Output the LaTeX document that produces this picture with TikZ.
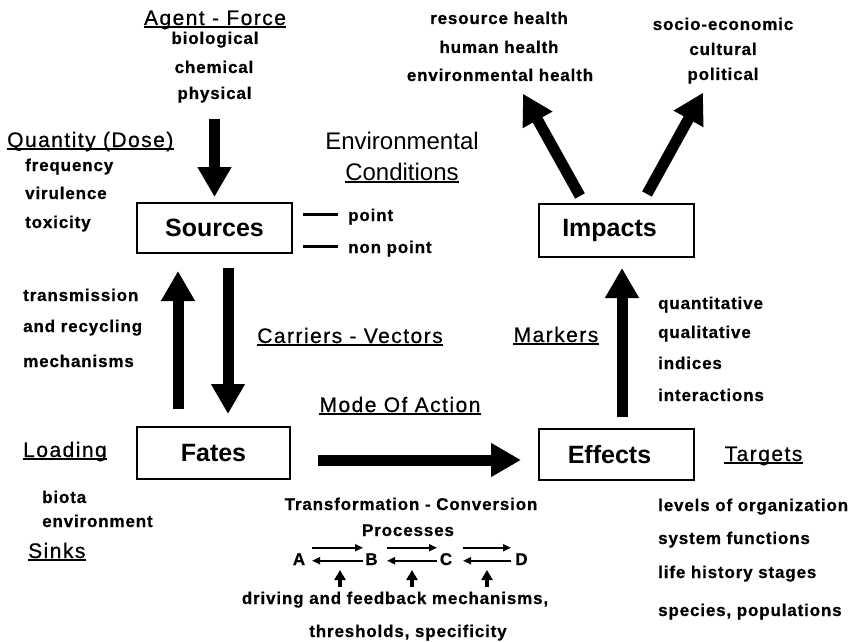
\documentclass[tikz,border=0pt]{standalone}
\usepackage{fontspec}
\setmainfont{Liberation Sans}
\newfontfamily\smf[LetterSpace=5,FakeBold=0.6]{Liberation Sans Bold}
\newfontfamily\hdf[LetterSpace=7,FakeBold=0.6]{Liberation Sans}
\newfontfamily\rgf{Liberation Sans}
\newfontfamily\bxf{Liberation Sans Bold}
\usetikzlibrary{arrows.meta,calc}
\tikzset{
  sm/.style={font=\smf\fontsize{17}{20}\selectfont, inner sep=0pt, text height=12pt, text depth=3.5pt},
  hd/.style={font=\hdf\fontsize{21}{25}\selectfont, inner sep=0pt, text height=15pt, text depth=0pt},
  rg/.style={font=\rgf\fontsize{24}{28}\selectfont, inner sep=0pt, text height=17pt, text depth=0pt},
  ulline/.style={draw, line width=1.8pt},
  ul/.style={append after command={([yshift=-2pt]\tikzlastnode.south west) edge[ulline] ([yshift=-2pt]\tikzlastnode.south east)}},
  box/.style={draw, line width=2pt, minimum width=155pt, minimum height=51pt, inner sep=0pt, font=\bxf\fontsize{25}{30}\selectfont},
  big/.style={line width=11pt, -{Triangle[width=32pt,length=30pt]}},
  eqarrow/.style={line width=2.4pt, -{Triangle[width=7pt,length=8pt]}},
  smallup/.style={line width=3.5pt, -{Triangle[width=11pt,length=10pt]}},
  pline/.style={line width=3pt}
}
\begin{document}
\begin{tikzpicture}[x=1pt,y=-1pt]
\fill[white] (0,0) rectangle (868,642);
\useasboundingbox (0,0) rectangle (868,642);

% boxes
\node[box, minimum height=50pt] (Sources) at (214.5,228) {Sources};
\node[box, minimum width=153pt, minimum height=52pt] (Fates) at (213.5,453) {Fates};
\node[box] (Effects) at (616.5,454.5) {Effects\hspace*{14pt}};
\node[box, minimum height=53pt] (Impacts) at (616.5,230.5) {Impacts\hspace*{14pt}};

% top left
\node[hd,ul,anchor=base] (agent) at (215,25) {Agent - Force};
\node[sm,anchor=base] (bio) at (215,44) {biological};
\node[sm,anchor=base] (chem) at (214,73) {chemical};
\node[sm,anchor=base] (phys) at (214.5,99) {physical};
\node[hd,ul,anchor=base west] (quant) at (7,147) {Quantity (Dose)};
\node[sm,anchor=base west] (freq) at (25,171) {frequency};
\node[sm,anchor=base west] (vir) at (25,199) {virulence};
\node[sm,anchor=base west] (tox) at (25,228) {toxicity};

% environmental conditions
\node[rg,anchor=base] (env) at (402,149) {Environmental};
\node[rg,ul,anchor=base] (cond) at (402,180) {Conditions};
\node[sm,anchor=base west] (pt) at (348,221) {point};
\node[sm,anchor=base west] (npt) at (348,253) {non point};
\draw[pline] ($(pt.west)+(-45,-2)$) -- ($(pt.west)+(-10,-2)$);
\draw[pline] ($(npt.west)+(-45,-2)$) -- ($(npt.west)+(-10,-2)$);

% left middle
\node[sm,anchor=base west] (trans) at (23,301) {transmission};
\node[sm,anchor=base west] (recyc) at (23,332) {and recycling};
\node[sm,anchor=base west] (mech) at (23,367) {mechanisms};
\node[hd,ul,anchor=base] (carr) at (350,343) {Carriers - Vectors};

% lower left
\node[hd,ul,anchor=base west] (load) at (23,457) {Loading};
\node[sm,anchor=base west] (biota) at (42,503) {biota};
\node[sm,anchor=base west] (envir) at (42,527) {environment};
\node[hd,ul,anchor=base west] (sinks) at (28,558) {Sinks};

% middle
\node[hd,ul,anchor=base] (mode) at (400,412) {Mode Of Action};
\node[sm,anchor=base] (transf) at (411,510) {Transformation - Conversion};
\node[sm,anchor=base] (proc) at (408,536) {Processes};
\node[sm,anchor=base] (A) at (299,565) {A};
\node[sm,anchor=base] (B) at (371.5,565) {B};
\node[sm,anchor=base] (C) at (446,565) {C};
\node[sm,anchor=base] (D) at (521.5,565) {D};
\node[sm,anchor=base] (driv) at (395,604) {driving and feedback mechanisms,};
\node[sm,anchor=base] (thr) at (408,637) {thresholds, specificity};

% right
\node[hd,ul,anchor=base] (mark) at (556,342) {Markers};
\node[sm,anchor=base west] (quanti) at (658,309) {quantitative};
\node[sm,anchor=base west] (quali) at (658,338) {qualitative};
\node[sm,anchor=base west] (indi) at (658,369) {indices};
\node[sm,anchor=base west] (inter) at (658,401) {interactions};
\node[hd,ul,anchor=base] (targ) at (763.5,461) {Targets};
\node[sm,anchor=base west] (lev) at (658,511) {levels of organization};
\node[sm,anchor=base west] (sys) at (658,544) {system functions};
\node[sm,anchor=base west] (life) at (658,578) {life history stages};
\node[sm,anchor=base west] (spec) at (658,616) {species, populations};

% top right
\node[sm,anchor=base] (res) at (499,24) {resource health};
\node[sm,anchor=base] (hum) at (499,53) {human health};
\node[sm,anchor=base] (envh) at (500,81) {environmental health};
\node[sm,anchor=base] (soc) at (723,30) {socio-economic};
\node[sm,anchor=base] (cult) at (723,55) {cultural};
\node[sm,anchor=base] (pol) at (723,80) {political};

% big arrows
\draw[big] ($(phys.south)+(0,16)$) -- ($(Sources.north)+(0,-5)$);
\draw[big] ($(Sources.south)+(13.5,14)$) -- ($(Fates.north)+(14.5,-12)$);
\draw[big] ($(Fates.north)+(-35.5,-17)$) -- ($(Sources.south)+(-36.5,17)$);
\draw[big] ($(Fates.east)+(27,7)$) -- ($(Effects.west)+(-17,5.5)$);
\draw[big] ($(Effects.north)+(5.5,-11)$) -- ($(Impacts.south)+(5.5,10)$);
\draw[big] ($(Impacts.north)+(-36.5,-7)$) -- ($(envh.south)+(23,9)$);
\draw[big] ($(Impacts.north)+(30.5,-9)$) -- ($(pol.south)+(-20,9)$);

% equilibrium arrows
\draw[eqarrow] ($(A.center)+(13,-13)$) -- ($(B.center)+(-8.5,-13)$);
\draw[eqarrow] ($(B.center)+(-8.5,0)$) -- ($(A.center)+(13,0)$);
\draw[eqarrow] ($(B.center)+(15.5,-13)$) -- ($(C.center)+(-9,-13)$);
\draw[eqarrow] ($(C.center)+(-9,0)$) -- ($(B.center)+(15.5,0)$);
\draw[eqarrow] ($(C.center)+(17,-13)$) -- ($(D.center)+(-10.5,-13)$);
\draw[eqarrow] ($(D.center)+(-10.5,0)$) -- ($(C.center)+(17,0)$);

% small driving arrows
\coordinate (s1) at (340,587); \coordinate (t1) at (340,570);
\coordinate (s2) at (412,587); \coordinate (t2) at (412,570);
\coordinate (s3) at (487,587); \coordinate (t3) at (487,570);
\draw[smallup] (s1) -- (t1);
\draw[smallup] (s2) -- (t2);
\draw[smallup] (s3) -- (t3);
\end{tikzpicture}
\end{document}
